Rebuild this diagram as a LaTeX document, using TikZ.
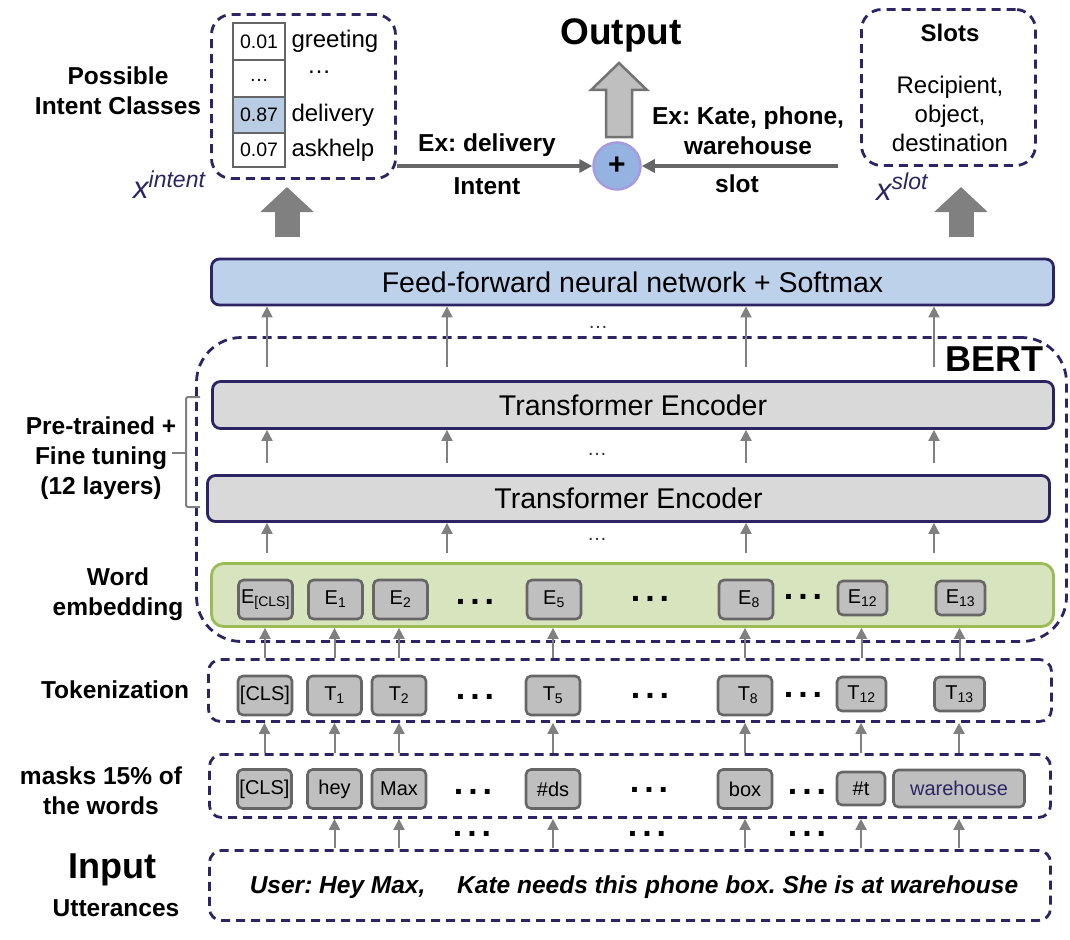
\documentclass[tikz,border=0pt]{standalone}
\usepackage{fontspec}
\setmainfont{Liberation Sans}
\usetikzlibrary{positioning,arrows.meta}
\frenchspacing

\definecolor{navy}{RGB}{43,38,99}
\definecolor{ffnnblue}{RGB}{189,209,235}
\definecolor{encgray}{RGB}{217,217,217}
\definecolor{embgreen}{RGB}{215,228,189}
\definecolor{embline}{RGB}{155,187,89}
\definecolor{tokfill}{RGB}{191,191,191}
\definecolor{tokline}{RGB}{102,102,102}
\definecolor{arrgray}{RGB}{128,128,128}
\definecolor{plusblue}{RGB}{149,179,224}
\definecolor{plusline}{RGB}{165,155,222}
\definecolor{cellblue}{RGB}{184,204,228}

\newcommand{\rowdots}{\textbf{.\kern5pt.\kern5pt.}}

\tikzset{
  dashbox/.style={draw=navy,line width=2.8pt,dash pattern=on 9pt off 6pt,rounded corners=12pt,inner sep=0pt},
  layer/.style={draw=navy,line width=2.8pt,rounded corners=8pt,inner sep=0pt,font=\fontsize{28.5}{34}\selectfont},
  tok/.style={draw=tokline,fill=tokfill,line width=2.6pt,rounded corners=5pt,inner sep=0pt,minimum height=39pt,minimum width=54pt,font=\fontsize{20}{24}\selectfont},
  cell/.style={draw=tokline,fill=white,line width=2.6pt,inner sep=0pt,minimum width=52pt,font=\fontsize{19.5}{23}\selectfont},
  side/.style={font=\fontsize{24.5}{30}\selectfont\bfseries,align=center},
  plain/.style={font=\fontsize{24}{29}\selectfont,align=center,inner sep=0pt},
  up/.style={draw=arrgray,line width=2pt,-{Triangle[length=11pt,width=11pt]}},
  flow/.style={draw=tokline,line width=4pt,-{Triangle[length=13pt,width=13pt]}},
  fat/.style={draw=arrgray,line width=25pt,-{Triangle[length=25pt,width=52pt]}},
  dots/.style={font=\fontsize{34}{34}\selectfont,inner sep=0pt},
  thindots/.style={font=\fontsize{20}{20}\selectfont,text=black!80,inner sep=0pt}
}

\begin{document}
\begin{tikzpicture}[x=1pt,y=-1pt]
\useasboundingbox[fill=white] (0,0) rectangle (1070,939);

% output part
\node[dashbox,rounded corners=20pt,minimum width=184pt,minimum height=164pt] (intentbox) at (303.5,96.5) {};
\node[cell,minimum height=37pt] (p1) at (259,41.5) {0.01};
\node[cell,minimum height=37pt] (p2) at (259,78.5) {\raisebox{-6pt}{…}};
\node[cell,fill=cellblue,minimum height=36pt] (p3) at (259,115) {0.87};
\node[cell,minimum height=34pt] (p4) at (259,150) {0.07};
\node[plain,right=5pt of p1] (l1) {greeting};
\node[plain] (l2) at (319,72) {…};
\node[plain,right=5pt of p3] (l3) {delivery};
\node[plain,right=5pt of p4] (l4) {askhelp};
\node[side] (possible) at (118,91) {Possible\\Intent Classes};
\node[anchor=base west,text=navy,inner sep=0pt] (xint) at (133,198)
  {\fontsize{31}{31}\selectfont\itshape x\raisebox{11pt}{\fontsize{23}{23}\selectfont intent}};

\node[dashbox,rounded corners=20pt,minimum width=174pt,minimum height=156pt] (slotbox) at (948.5,87.5) {};
\node[plain,font=\fontsize{24}{29}\selectfont\bfseries] (slots) at (950,33) {Slots};
\node[plain] (slotlist) at (950,114) {Recipient,\\object,\\destination};
\node[anchor=base west,text=navy,inner sep=0pt] (xslot) at (876,200)
  {\fontsize{31}{31}\selectfont\itshape x\raisebox{11pt}{\fontsize{23}{23}\selectfont slot}};

\node[font=\fontsize{37}{40}\selectfont\bfseries] (output) at (621,35) {Output};
\node[circle,draw=plusline,fill=plusblue,line width=2.5pt,minimum size=47pt,inner sep=0pt,
      font=\fontsize{30}{30}\selectfont\bfseries] (plus) at (617,166) {+};
\draw[draw=black!55,fill=tokfill,line width=2.5pt] (606,137) -- (606,90) -- (591,90) -- (619,63)
  -- (647,90) -- (632,90) -- (632,137) -- cycle;

\coordinate (slotstart) at (838,166);
\draw[flow] (intentbox.east |- plus) -- (plus);
\draw[flow] (slotstart) -- (plus);
\node[side] (exint) at (487,145) {Ex: delivery};
\node[side] (intlbl) at (487,186) {Intent};
\node[side] (exslot) at (748,131) {Ex: Kate, phone,\\warehouse};
\node[side] (slotlbl) at (737,184) {slot};

\coordinate (ifoot) at (287,237);
\coordinate (itop) at (287,187);
\coordinate (sfoot) at (961,237);
\coordinate (stop) at (961,187);
\draw[fat] (ifoot) -- (itop);
\draw[fat] (sfoot) -- (stop);

% bert part
\node[layer,fill=ffnnblue,minimum width=842pt,minimum height=46pt] (ffnn) at (632.5,282)
  {Feed-forward neural network + Softmax};
\node[dashbox,rounded corners=45pt,minimum width=870pt,minimum height=304pt] (bert) at (631.5,489.5) {};
\node[font=\fontsize{36}{40}\selectfont\bfseries] (bertlbl) at (994,359) {BERT};
\node[layer,fill=encgray,minimum width=841pt,minimum height=47pt] (enc2) at (633,405) {Transformer Encoder};
\node[layer,fill=encgray,minimum width=842pt,minimum height=46pt] (enc1) at (628.5,498.5) {Transformer Encoder};
\node[draw=embline,fill=embgreen,line width=2.8pt,rounded corners=12pt,minimum width=842pt,
      minimum height=63pt] (word) at (632.5,595) {};

\foreach \cx in {267,447,746,934} {
  \draw[up] (\cx,367) -- (\cx,0 |- ffnn.south);
  \draw[up] (\cx,463) -- (\cx,0 |- enc2.south);
  \draw[up] (\cx,553) -- (\cx,0 |- enc1.south);
}
\node[thindots] (d1) at (598,327) {…};
\node[thindots] (d2) at (597,454) {…};
\node[thindots] (d3) at (597,539) {…};

\node[side] (pretrain) at (101,458) {Pre-trained +\\Fine tuning\\(12 layers)};
\draw[arrgray,line width=2pt,rounded corners=2pt] (200,397) -- (186,397) -- (186,507) -- (200,507);
\draw[arrgray,line width=2pt] (186,453) -- (172,453);
\node[side] (wordlbl) at (118,594) {Word\\embedding};

\node[tok] (e0) at (265.5,599.5) {E\textsubscript{[CLS]}};
\node[tok] (e1) at (335.5,599.5) {E\textsubscript{1}};
\node[tok] (e2) at (400.5,599.5) {E\textsubscript{2}};
\node[tok] (e5) at (554,599.5) {E\textsubscript{5}};
\node[tok] (e8) at (746,599.5) {\hspace{6pt}E\textsubscript{8}};
\node[tok,minimum width=49pt,minimum height=34pt] (e12) at (862.5,598) {E\textsubscript{12}};
\node[tok,minimum width=49pt,minimum height=34pt] (e13) at (960.5,598) {E\textsubscript{13}};
\node[dots] (ed1) at (475,602) {\rowdots};
\node[dots] (ed2) at (650,599) {\rowdots};
\node[dots] (ed3) at (803,597) {\rowdots};

% tokens
\node[side] (toklbl) at (115,690) {Tokenization};
\node[dashbox,minimum width=843pt,minimum height=62pt] (tokrow) at (630,690.5) {};
\node[tok] (t0) at (265,695.5) {[CLS]};
\node[tok] (t1) at (334.5,695.5) {T\textsubscript{1}};
\node[tok] (t2) at (399,695.5) {T\textsubscript{2}};
\node[tok] (t5) at (553,695.5) {T\textsubscript{5}};
\node[tok] (t8) at (745,695.5) {\hspace{6pt}T\textsubscript{8}};
\node[tok,minimum width=49pt,minimum height=34pt] (t12) at (861.5,694) {T\textsubscript{12}};
\node[tok,minimum width=50pt,minimum height=34pt] (t13) at (959.5,694) {T\textsubscript{13}};
\node[dots] (td1) at (475,697) {\rowdots};
\node[dots] (td2) at (650,696) {\rowdots};
\node[dots] (td3) at (803,695) {\rowdots};

\node[side] (masklbl) at (101,791) {masks 15\% of\\the words};
\node[dashbox,minimum width=841pt,minimum height=63pt] (maskrow) at (630,786) {};
\node[tok] (m0) at (264.5,789) {[CLS]};
\node[tok] (m1) at (334.5,789) {hey};
\node[tok] (m2) at (399,789) {Max};
\node[tok] (m5) at (553,789) {\#ds};
\node[tok] (m8) at (745,789) {box};
\node[tok,minimum width=48pt,minimum height=33pt] (m12) at (861,788.5) {\#t};
\node[tok,minimum width=131pt,minimum height=37pt,text=navy] (m13) at (959,788.5) {warehouse};
\node[dots] (md1) at (473,792) {\rowdots};
\node[dots] (md2) at (649,790) {\rowdots};
\node[dots] (md3) at (807,792) {\rowdots};

\foreach \n in {0,1,2,5,8,12,13} {
  \draw[up] (t\n |- tokrow.north) -- (t\n |- word.south);
  \draw[up] (m\n |- maskrow.north) -- (m\n |- tokrow.south);
}
\foreach \n in {1,2,5,8,12,13} {
  \draw[up] (m\n |- 0,848) -- (m\n |- maskrow.south);
}
\node[dots] (id1) at (472,834) {\rowdots};
\node[dots] (id2) at (647,834) {\rowdots};
\node[dots] (id3) at (807,834) {\rowdots};

% input
\node[font=\fontsize{36}{40}\selectfont\bfseries] (inlbl) at (112,870) {Input};
\node[font=\fontsize{24.5}{30}\selectfont\bfseries] (utlbl) at (116,908) {Utterances};
\node[dashbox,minimum width=841pt,minimum height=70pt] (inrow) at (630,885.5) {};
\node[font=\fontsize{24.5}{30}\selectfont\bfseries\itshape] (utter) at (634,887)
  {User: Hey Max,\hspace{25pt} Kate needs this phone box. She is at warehouse};

\end{tikzpicture}
\end{document}
